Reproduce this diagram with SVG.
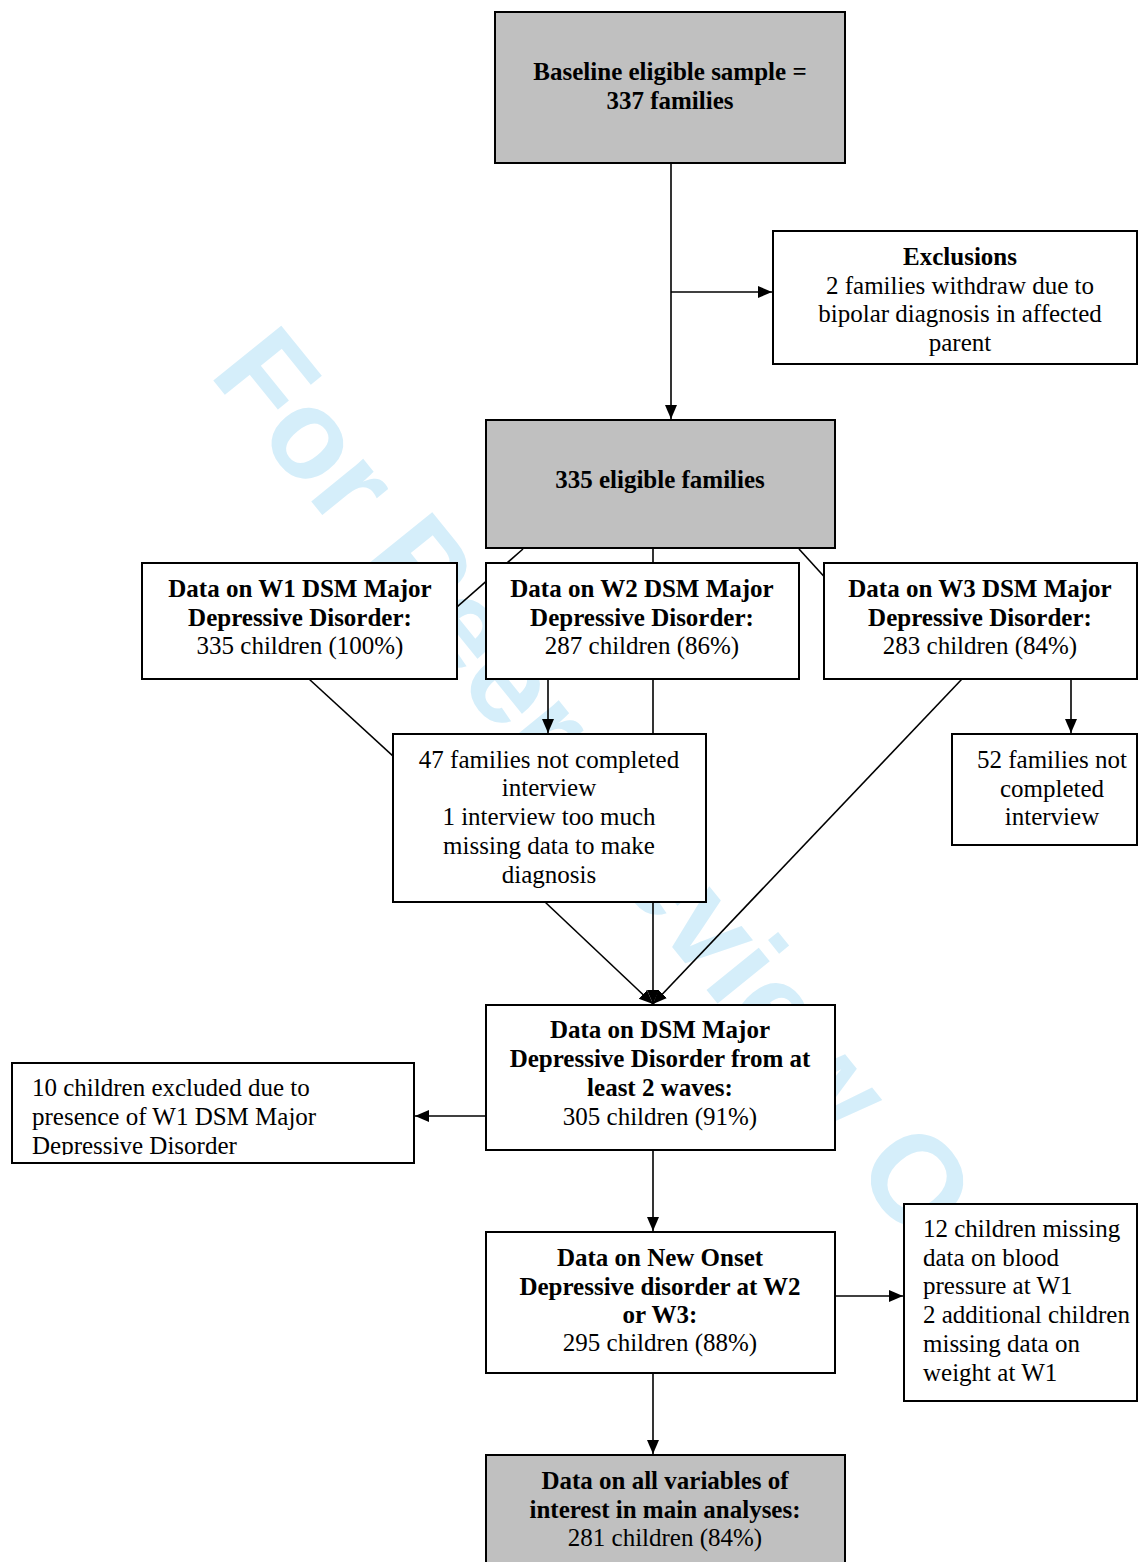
<svg xmlns="http://www.w3.org/2000/svg" width="1138" height="1562" viewBox="0 0 1138 1562">
<style>
.box{fill:#fff;stroke:#000;stroke-width:2}
.gray{fill:#c0c0c0;stroke:#000;stroke-width:2}
.t{font-family:"Liberation Serif","Times New Roman",serif;font-size:25px;fill:#000}
.c{text-anchor:middle}
.b{font-weight:bold}
.ln{stroke:#000;stroke-width:1.6;fill:none}
.wm{font-family:"Liberation Sans",Arial,sans-serif;font-weight:bold;font-size:127px;fill:#d5eefa}
</style>
<defs>
<marker id="ah" markerWidth="14" markerHeight="14" refX="14" refY="7" orient="auto" markerUnits="userSpaceOnUse">
<path d="M0,1 L14,7 L0,13 z" fill="#000"/>
</marker>
<clipPath id="clip10"><rect x="13" y="1064" width="400" height="91"/></clipPath>
</defs>
<rect width="1138" height="1562" fill="#fff"/>
<text class="wm" transform="translate(208,374) rotate(51)">For Peer Review Only</text>
<g id="connectors">
<line class="ln" x1="671" y1="163" x2="671" y2="419" marker-end="url(#ah)"/>
<line class="ln" x1="671" y1="292" x2="772" y2="292" marker-end="url(#ah)"/>
<line class="ln" x1="523" y1="549" x2="400" y2="657"/>
<line class="ln" x1="653" y1="549" x2="653" y2="563"/>
<line class="ln" x1="799" y1="549" x2="850" y2="605"/>
<line class="ln" x1="309" y1="679" x2="430" y2="790"/>
<line class="ln" x1="548" y1="679" x2="548" y2="733" marker-end="url(#ah)"/>
<line class="ln" x1="653" y1="679" x2="653" y2="1004" marker-end="url(#ah)"/>
<line class="ln" x1="545" y1="902" x2="653" y2="1004" marker-end="url(#ah)"/>
<line class="ln" x1="962" y1="679" x2="653" y2="1004" marker-end="url(#ah)"/>
<line class="ln" x1="1071" y1="679" x2="1071" y2="733" marker-end="url(#ah)"/>
<line class="ln" x1="486" y1="1116" x2="415" y2="1116" marker-end="url(#ah)"/>
<line class="ln" x1="653" y1="1150" x2="653" y2="1231" marker-end="url(#ah)"/>
<line class="ln" x1="835" y1="1296" x2="903" y2="1296" marker-end="url(#ah)"/>
<line class="ln" x1="653" y1="1373" x2="653" y2="1454" marker-end="url(#ah)"/>
</g>
<g id="baseline">
<rect class="gray" x="495" y="12" width="350" height="151"/>
<text class="t c b" x="670" y="80">Baseline eligible sample =</text>
<text class="t c b" x="670" y="109">337 families</text>
</g>
<g id="exclusions">
<rect class="box" x="773" y="231" width="364" height="133"/>
<text class="t c b" x="960" y="265">Exclusions</text>
<text class="t c" x="960" y="294">2 families withdraw due to</text>
<text class="t c" x="960" y="322">bipolar diagnosis in affected</text>
<text class="t c" x="960" y="351">parent</text>
</g>
<g id="eligible">
<rect class="gray" x="486" y="420" width="349" height="128"/>
<text class="t c b" x="660" y="488">335 eligible families</text>
</g>
<g id="w1">
<rect class="box" x="142" y="563" width="315" height="116"/>
<text class="t c b" x="300" y="597">Data on W1 DSM Major</text>
<text class="t c b" x="300" y="626">Depressive Disorder:</text>
<text class="t c" x="300" y="654">335 children (100%)</text>
</g>
<g id="w2">
<rect class="box" x="486" y="563" width="313" height="116"/>
<text class="t c b" x="642" y="597">Data on W2 DSM Major</text>
<text class="t c b" x="642" y="626">Depressive Disorder:</text>
<text class="t c" x="642" y="654">287 children (86%)</text>
</g>
<g id="w3">
<rect class="box" x="824" y="563" width="313" height="116"/>
<text class="t c b" x="980" y="597">Data on W3 DSM Major</text>
<text class="t c b" x="980" y="626">Depressive Disorder:</text>
<text class="t c" x="980" y="654">283 children (84%)</text>
</g>
<g id="missing47">
<rect class="box" x="393" y="734" width="313" height="168"/>
<text class="t c" x="549" y="768">47 families not completed</text>
<text class="t c" x="549" y="796">interview</text>
<text class="t c" x="549" y="825">1 interview too much</text>
<text class="t c" x="549" y="854">missing data to make</text>
<text class="t c" x="549" y="883">diagnosis</text>
</g>
<g id="missing52">
<rect class="box" x="952" y="734" width="185" height="111"/>
<text class="t c" x="1052" y="768">52 families not</text>
<text class="t c" x="1052" y="797">completed</text>
<text class="t c" x="1052" y="825">interview</text>
</g>
<g id="twowaves">
<rect class="box" x="486" y="1005" width="349" height="145"/>
<text class="t c b" x="660" y="1038">Data on DSM Major</text>
<text class="t c b" x="660" y="1067">Depressive Disorder from at</text>
<text class="t c b" x="660" y="1096">least 2 waves:</text>
<text class="t c" x="660" y="1125">305 children (91%)</text>
</g>
<g id="excluded10">
<rect class="box" x="12" y="1063" width="402" height="100"/>
<g clip-path="url(#clip10)">
<text class="t" x="32" y="1096">10 children excluded due to</text>
<text class="t" x="32" y="1125">presence of W1 DSM Major</text>
<text class="t" x="32" y="1154">Depressive Disorder</text>
</g>
</g>
<g id="newonset">
<rect class="box" x="486" y="1232" width="349" height="141"/>
<text class="t c b" x="660" y="1266">Data on New Onset</text>
<text class="t c b" x="660" y="1295">Depressive disorder at W2</text>
<text class="t c b" x="660" y="1323">or W3:</text>
<text class="t c" x="660" y="1351">295 children (88%)</text>
</g>
<g id="missing12">
<rect class="box" x="904" y="1204" width="233" height="197"/>
<text class="t" x="923" y="1237">12 children missing</text>
<text class="t" x="923" y="1266">data on blood</text>
<text class="t" x="923" y="1294">pressure at W1</text>
<text class="t" x="923" y="1323">2 additional children</text>
<text class="t" x="923" y="1352">missing data on</text>
<text class="t" x="923" y="1381">weight at W1</text>
</g>
<g id="final">
<rect class="gray" x="486" y="1455" width="359" height="120"/>
<text class="t c b" x="665" y="1489">Data on all variables of</text>
<text class="t c b" x="665" y="1518">interest in main analyses:</text>
<text class="t c" x="665" y="1546">281 children (84%)</text>
</g>
</svg>
